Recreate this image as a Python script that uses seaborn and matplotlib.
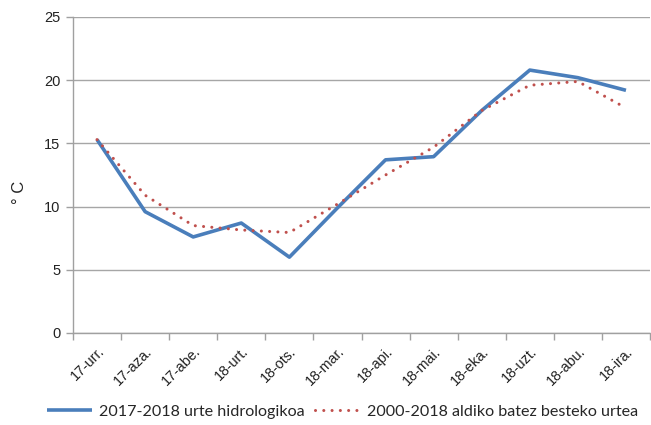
import numpy as np
import pandas as pd
import matplotlib
matplotlib.use("Agg")
import matplotlib.pyplot as plt
import seaborn as sns
from matplotlib.ticker import FixedLocator

months = ["17-urr.", "17-aza.", "17-abe.", "18-urt.", "18-ots.", "18-mar.",
          "18-api.", "18-mai.", "18-eka.", "18-uzt.", "18-abu.", "18-ira."]
hydro_2017_2018 = [15.3, 9.6, 7.6, 8.7, 6.0, 9.9, 13.7, 13.95, 17.6, 20.8, 20.2, 19.2]
mean_2000_2018 = [15.3, 10.9, 8.5, 8.15, 7.95, 10.2, 12.5, 14.7, 17.6, 19.6, 19.9, 17.8]
series_names = ["2017-2018 urte hidrologikoa", "2000-2018 aldiko batez besteko urtea"]
y_ticks = [0, 5, 10, 15, 20, 25]

df = pd.DataFrame({
    "month": months * 2,
    "x": list(range(len(months))) * 2,
    "value": hydro_2017_2018 + mean_2000_2018,
    "series": [series_names[0]] * len(months) + [series_names[1]] * len(months),
})

sns.set_theme(style="white")
plt.rcParams["font.family"] = ["Liberation Sans", "DejaVu Sans"]

fig = plt.figure(figsize=(6.51, 4.25), dpi=100)
ax = fig.add_axes([73 / 651, 1 - 333 / 425, (650 - 73) / 651, (333 - 17) / 425])

palette = {series_names[0]: "#4A7EBB", series_names[1]: "#C0504D"}
sns.lineplot(data=df[df.series == series_names[0]], x="x", y="value", ax=ax,
             color=palette[series_names[0]], linewidth=2.6, label=series_names[0],
             solid_capstyle="butt")
sns.lineplot(data=df[df.series == series_names[1]], x="x", y="value", ax=ax,
             color=palette[series_names[1]], linewidth=2.2, label=series_names[1],
             linestyle=(0, (0.01, 2.7)), dash_capstyle="round")

ax.set_xlim(-0.5, len(months) - 0.5)
ax.set_ylim(0, 25)
ax.set_yticks(y_ticks)
ax.set_yticklabels([str(v) for v in y_ticks], fontsize=10.5, color="#222222")
ax.set_xticks(range(len(months)))
ax.set_xticklabels(months, rotation=45, ha="right", rotation_mode="anchor",
                   fontsize=10.3, color="#222222")
ax.xaxis.set_minor_locator(FixedLocator(np.arange(-0.5, len(months), 1.0)))
ax.tick_params(axis="x", which="major", length=0, pad=8)
ax.tick_params(axis="x", which="minor", length=5, color="#A0A0A0", width=1, direction="out", bottom=True)
ax.tick_params(axis="y", which="major", length=5, color="#A0A0A0", width=1, direction="out", left=True, pad=4)

ax.grid(axis="y", color="#A6A6A6", linewidth=1)
ax.set_axisbelow(True)
for side in ["top", "right"]:
    ax.spines[side].set_visible(False)
for side in ["left", "bottom"]:
    ax.spines[side].set_color("#A0A0A0")
    ax.spines[side].set_linewidth(1)

ax.set_xlabel("")
ax.set_ylabel("")
fig.text(20 / 651, 1 - 192 / 425, "° C", rotation=90, fontsize=12, color="#222222",
         ha="center", va="center")

handles, labels = ax.get_legend_handles_labels()
ax.get_legend().remove()
fig.legend(handles, labels, loc="center", bbox_to_anchor=(0.526, 0.032), ncol=2,
           frameon=False, handlelength=2.8, columnspacing=0.6,
           handletextpad=0.45, prop={"family": ["Lato", "DejaVu Sans"], "size": 11.6})

fig.savefig("out.png", dpi=100)
